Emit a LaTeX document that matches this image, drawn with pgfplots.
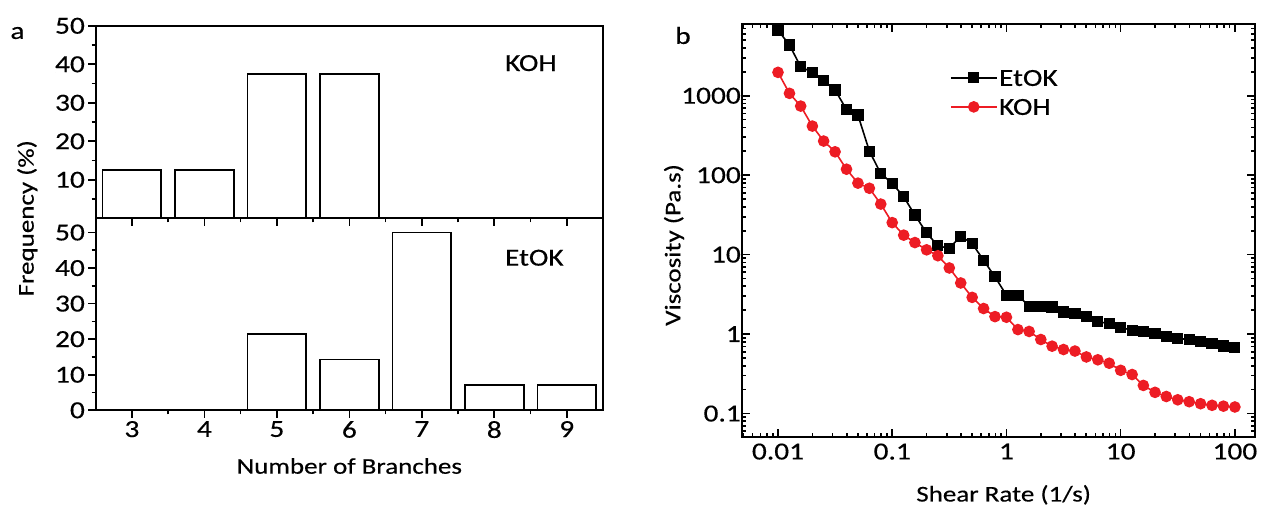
\documentclass[border=0pt]{standalone}
\usepackage{fontspec}
\setmainfont{Carlito}[FakeStretch=1.2, FakeBold=0.35]
\usepackage{pgfplots}
\pgfplotsset{compat=1.18}
\definecolor{kohred}{RGB}{237,28,36}
\newcommand{\fs}{\fontsize{22.5}{27}\selectfont}
\newcommand{\ft}{\fontsize{24.5}{29}\selectfont}

\begin{document}
\begin{tikzpicture}[font=\fs]
\useasboundingbox (0pt,0pt) rectangle (1262pt,-510pt);
\pgfplotsset{
  leftbar/.style={
    scale only axis, width=507.3pt,
    xmin=2.5, xmax=9.5, ymin=0,
    ybar, bar width=0.81, bar shift=0pt,
    axis line style={line width=1.8pt},
    every tick/.style={line width=1.6pt, black},
    major tick length=7.3pt, minor tick length=4pt,
    tick align=outside,
    ytick pos=left, xtick pos=bottom,
    xtick={3,...,9}, minor xtick={3.5,4.5,...,8.5},
    minor ytick={5,15,...,45},
    /pgf/number format/assume math mode=true,
    tick label style={font=\ft},
    label style={font=\fs},
    clip=false,
  },
}
\node at (17.5pt,-33pt) {\ft a};
\node at (683pt,-35.5pt) {\ft b};

% top panel: KOH
\begin{axis}[leftbar, at={(95.7pt,-25.8pt)}, anchor=north west, height=192.5pt,
  ymax=50, ytick={10,20,...,50}, xticklabels={}]
\addplot[fill=white, draw=black, line width=1.8pt] coordinates {(3,12.5) (4,12.5) (5,37.5) (6,37.5)};
\node[anchor=west, font=\ft] at (axis cs:8.1,40.3) {KOH};
\end{axis}

% bottom panel: EtOK
\begin{axis}[leftbar, at={(95.7pt,-218.3pt)}, anchor=north west, height=192pt,
  ymax=54, ytick={0,10,...,50},
  xlabel={Number of Branches}, ylabel={Frequency (\%)},
  xlabel style={at={(axis description cs:0.5,-0.29)}, anchor=center},
  ylabel style={at={(axis description cs:-0.135,1)}, anchor=center}]
\addplot[fill=white, draw=black, line width=1.8pt] coordinates {(5,21.4) (6,14.3) (7,50) (8,7.1) (9,7.1)};
\node[anchor=west, font=\ft] at (axis cs:8.1,42.9) {EtOK};
\end{axis}

% right panel
\begin{axis}[at={(742pt,-24pt)}, anchor=north west, scale only axis,
  width=513pt, height=413pt,
  xmode=log, ymode=log,
  xmin=0.00484, xmax=150, ymin=0.0507, ymax=8000,
  xtick={0.01,0.1,1,10,100}, xticklabels={0.01,0.1,1,10,100},
  ytick={0.1,1,10,100,1000}, yticklabels={0.1,1,10,100,1000},
  minor xtick={0.005,0.006,0.007,0.008,0.009,0.02,0.03,0.04,0.05,0.06,0.07,0.08,0.09,0.2,0.3,0.4,0.5,0.6,0.7,0.8,0.9,2,3,4,5,6,7,8,9,20,30,40,50,60,70,80,90},
  minor ytick={0.06,0.07,0.08,0.09,0.2,0.3,0.4,0.5,0.6,0.7,0.8,0.9,2,3,4,5,6,7,8,9,20,30,40,50,60,70,80,90,200,300,400,500,600,700,800,900,2000,3000,4000,5000,6000,7000,8000},
  tick align=inside,
  major tick length=8pt, minor tick length=4.5pt,
  axis line style={line width=1.8pt},
  every tick/.style={line width=1.6pt, black},
  /pgf/number format/assume math mode=true,
  tick label style={font=\ft},
  label style={font=\fs},
  xticklabel style={yshift=-3pt},
  yticklabel style={inner xsep=1pt},
  xlabel={Shear Rate (1/s)}, ylabel={Viscosity (Pa.s)},
  xlabel style={at={(axis description cs:0.51,-0.140)}, anchor=center},
  ylabel style={at={(axis description cs:-0.1326,0.465)}, anchor=center},
  clip mode=individual,
  legend cell align=left,
  legend style={at={(0.405,0.893)}, anchor=north west, draw=none, fill=none,
    inner sep=0pt, row sep=10pt,
    nodes={inner sep=1.5pt, text height=16pt, text depth=0pt, font=\ft}},
  legend image code/.code={\draw[mark repeat=2, mark phase=2, #1] plot coordinates {(0pt,0pt) (23pt,0pt) (46pt,0pt)};},
]
\addplot[black, line width=1.6pt, mark=square*, mark size=4.8pt, mark options={solid, fill=black}] coordinates {
(0.01,6700) (0.0126,4350) (0.0158,2320) (0.02,1970) (0.0251,1545) (0.0316,1180)
(0.0398,670) (0.0501,571) (0.0631,201) (0.0794,105) (0.1,79) (0.126,53.5)
(0.158,31.5) (0.2,18.8) (0.251,12.9) (0.316,12.0) (0.398,17.1) (0.501,13.8)
(0.631,8.5) (0.794,5.25) (1,3.09) (1.26,3.09) (1.58,2.24) (2,2.24) (2.51,2.20)
(3.16,1.90) (3.98,1.80) (5.01,1.65) (6.31,1.43) (7.94,1.36) (10,1.21) (12.6,1.12)
(15.8,1.07) (20,1.02) (25.1,0.94) (31.6,0.88) (39.8,0.855) (50.1,0.80) (63.1,0.76)
(79.4,0.71) (100,0.68)};
\addlegendentry{EtOK}
\addplot[kohred, line width=1.6pt, mark=*, mark size=5pt, mark options={solid, fill=kohred}] coordinates {
(0.01,1970) (0.0126,1072) (0.0158,741) (0.02,415) (0.0251,269) (0.0316,197)
(0.0398,119) (0.0501,79.5) (0.0631,68.5) (0.0794,43.3) (0.1,25.3) (0.126,17.6)
(0.158,14.2) (0.2,11.5) (0.251,9.7) (0.316,6.8) (0.398,4.4) (0.501,2.9)
(0.631,2.1) (0.794,1.66) (1,1.63) (1.26,1.14) (1.58,1.08) (2,0.855) (2.51,0.705)
(3.16,0.64) (3.98,0.612) (5.01,0.516) (6.31,0.475) (7.94,0.43) (10,0.35) (12.6,0.31)
(15.8,0.226) (20,0.185) (25.1,0.164) (31.6,0.149) (39.8,0.141) (50.1,0.133) (63.1,0.127)
(79.4,0.124) (100,0.121)};
\addlegendentry{KOH}
\end{axis}
\end{tikzpicture}
\end{document}
